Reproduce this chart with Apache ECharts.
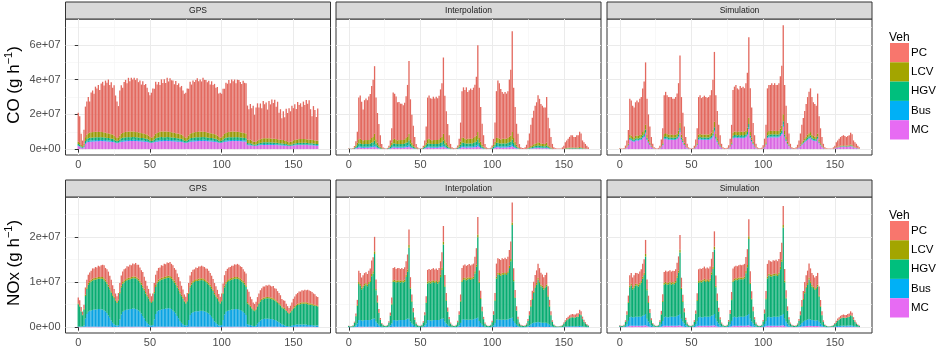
<!DOCTYPE html>
<html>
<head>
<meta charset="utf-8">
<script src="https://cdn.jsdelivr.net/npm/echarts@6/dist/echarts.min.js"></script>
<style>
  html, body { margin: 0; padding: 0; background: #ffffff; }
  #chart { width: 937px; height: 350px; }
</style>
</head>
<body>
<div id="chart"></div>
<script>
// Hourly emissions over one week (hour 0 to 167), stacked by vehicle type.
// Values are in units of 1e6 g/h.
const hours = Array.from({ length: 168 }, (_, h) => h);
const vehicles = ['PC', 'LCV', 'HGV', 'Bus', 'MC'];
const methods = ['GPS', 'Interpolation', 'Simulation'];
const xMajorTicks = [0, 50, 100, 150];
const xMinorTicks = [25, 75, 125];
const coTicks = [0, 2e7, 4e7, 6e7];
const coMinorTicks = [1e7, 3e7, 5e7, 7e7];
const noxTicks = [0, 1e7, 2e7];
const noxMinorTicks = [0.5e7, 1.5e7, 2.5e7];

// ---------- CO, GPS ----------
const gpsCoMC = [
  1.8,1.5,0.8,0.5,1.0,3.0,3.8,4.1,4.2,4.3,4.4,4.4, 4.5,4.5,4.5,4.6,4.6,4.6,4.5,4.5,4.4,4.4,4.3,4.2,
  4.1,3.9,3.6,3.4,3.5,3.9,4.2,4.3,4.4,4.5,4.5,4.6, 4.6,4.6,4.7,4.7,4.6,4.6,4.5,4.5,4.4,4.4,4.3,4.2,
  4.1,3.9,3.7,3.5,3.6,3.9,4.2,4.3,4.4,4.5,4.5,4.5, 4.6,4.6,4.6,4.6,4.6,4.5,4.5,4.4,4.4,4.3,4.3,4.2,
  4.1,3.9,3.6,3.5,3.6,3.9,4.2,4.3,4.4,4.4,4.5,4.5, 4.6,4.6,4.6,4.7,4.7,4.6,4.5,4.5,4.4,4.4,4.3,4.2,
  4.1,3.9,3.7,3.5,3.6,3.9,4.2,4.3,4.4,4.5,4.5,4.6, 4.6,4.6,4.6,4.6,4.6,4.5,4.5,4.4,4.4,4.3,2.3,2.2,
  2.2,2.1,1.9,1.8,1.9,2.0,2.2,2.3,2.3,2.4,2.4,2.4, 2.4,2.4,2.4,2.4,2.4,2.3,2.3,2.3,2.2,2.2,2.1,2.1,
  2.0,1.9,1.8,1.7,1.8,1.9,2.1,2.2,2.2,2.3,2.3,2.3, 2.3,2.3,2.3,2.3,2.3,2.2,2.2,2.2,2.1,2.1,2.0,2.0
];
const gpsCoBus = [
  0.4,0.3,0.2,0.2,0.3,0.5,0.6,0.7,0.7,0.7,0.7,0.7, 0.7,0.7,0.7,0.7,0.7,0.7,0.7,0.7,0.6,0.6,0.6,0.5,
  0.5,0.4,0.3,0.3,0.3,0.4,0.6,0.7,0.7,0.7,0.7,0.7, 0.7,0.7,0.7,0.7,0.7,0.7,0.7,0.7,0.6,0.6,0.6,0.5,
  0.5,0.4,0.3,0.3,0.3,0.4,0.6,0.7,0.7,0.7,0.8,0.7, 0.7,0.7,0.8,0.7,0.7,0.7,0.7,0.7,0.6,0.6,0.6,0.5,
  0.5,0.4,0.3,0.3,0.3,0.4,0.6,0.6,0.7,0.7,0.7,0.7, 0.7,0.7,0.7,0.7,0.7,0.7,0.7,0.6,0.6,0.6,0.6,0.5,
  0.5,0.4,0.3,0.3,0.3,0.4,0.6,0.7,0.7,0.7,0.7,0.7, 0.7,0.7,0.7,0.7,0.7,0.7,0.7,0.7,0.6,0.6,0.4,0.4,
  0.4,0.3,0.2,0.2,0.2,0.3,0.4,0.4,0.5,0.5,0.5,0.5, 0.5,0.5,0.5,0.5,0.5,0.5,0.5,0.4,0.4,0.4,0.4,0.4,
  0.3,0.3,0.2,0.2,0.2,0.2,0.3,0.3,0.4,0.4,0.4,0.4, 0.4,0.4,0.4,0.4,0.4,0.4,0.4,0.4,0.3,0.3,0.3,0.3
];
const gpsCoHGV = [
  0.8,0.7,0.5,0.4,0.8,1.2,1.4,1.5,1.6,1.6,1.6,1.6, 1.6,1.6,1.6,1.6,1.5,1.5,1.5,1.4,1.4,1.4,1.3,1.3,
  1.3,1.2,1.0,0.9,1.0,1.2,1.4,1.5,1.6,1.6,1.6,1.6, 1.6,1.6,1.6,1.6,1.5,1.5,1.5,1.4,1.4,1.4,1.3,1.3,
  1.3,1.2,1.0,0.9,1.0,1.2,1.4,1.5,1.6,1.7,1.7,1.6, 1.6,1.6,1.6,1.6,1.5,1.5,1.5,1.4,1.4,1.4,1.3,1.3,
  1.3,1.2,1.0,0.9,1.0,1.2,1.4,1.5,1.5,1.6,1.6,1.6, 1.6,1.6,1.6,1.6,1.5,1.5,1.5,1.4,1.4,1.4,1.3,1.3,
  1.3,1.2,1.0,0.9,1.0,1.2,1.4,1.5,1.6,1.6,1.6,1.6, 1.6,1.6,1.6,1.6,1.5,1.5,1.5,1.4,1.4,1.4,0.8,0.8,
  0.8,0.7,0.6,0.6,0.6,0.7,0.8,0.9,0.9,1.0,1.0,1.0, 1.0,1.0,1.0,0.9,0.9,0.9,0.9,0.9,0.8,0.8,0.8,0.8,
  0.7,0.7,0.6,0.5,0.6,0.6,0.7,0.8,0.8,0.8,0.9,0.9, 0.9,0.9,0.9,0.9,0.8,0.8,0.8,0.8,0.8,0.7,0.7,0.7
];
const gpsCoLCV = [
  1.2,1.0,0.8,0.6,1.2,2.2,2.6,2.8,3.0,3.1,3.1,3.2, 3.2,3.2,3.1,3.1,3.0,3.0,2.9,2.9,2.8,2.7,2.7,2.6,
  2.5,2.3,2.0,1.8,2.0,2.3,2.6,2.8,3.0,3.1,3.2,3.2, 3.2,3.2,3.1,3.1,3.0,3.0,2.9,2.9,2.8,2.7,2.7,2.6,
  2.5,2.3,2.0,1.8,2.0,2.3,2.6,2.8,3.0,3.1,3.2,3.3, 3.3,3.2,3.2,3.1,3.0,3.0,2.9,2.9,2.8,2.7,2.7,2.6,
  2.5,2.3,2.0,1.8,2.0,2.3,2.6,2.8,2.9,3.0,3.1,3.1, 3.2,3.2,3.1,3.1,3.0,3.0,2.9,2.9,2.8,2.7,2.7,2.6,
  2.5,2.3,2.0,1.8,2.0,2.3,2.6,2.8,3.0,3.1,3.2,3.2, 3.2,3.2,3.1,3.1,3.0,3.0,2.9,2.9,2.8,2.7,2.0,2.0,
  2.0,1.9,1.7,1.6,1.7,1.8,2.0,2.1,2.2,2.3,2.3,2.3, 2.3,2.3,2.3,2.2,2.2,2.2,2.1,2.1,2.0,2.0,1.9,1.9,
  1.8,1.7,1.6,1.5,1.6,1.7,1.9,2.0,2.1,2.1,2.2,2.2, 2.2,2.2,2.2,2.1,2.1,2.1,2.0,2.0,2.0,1.9,1.9,1.8
];
const gpsCoPC = [
  16.8,15.4,6.5,3.2,7.9,17.6,19,21,18,23,24,22, 26,25,27,24,28,29,27,30,29,31,28,30,
  27,29,24,21,18,26,28,26,29,30,28,31, 29,31,30,31,30,31,29,30,28,30,28,29,
  27,25,24,26,28,27,30,28,29,27,30,28, 30,28,31,29,31,30,30,28,30,28,29,27,
  28,26,25,26,28,27,30,28,30,29,30,31, 29,30,29,31,30,30,29,30,28,30,28,29,
  27,28,25,26,25,27,26,29,28,30,28,30, 29,30,28,30,30,29,28,30,29,29,19.6,17.6,
  20.6,18.6,20.6,15.6,19.6,21.6,18.6,20.6,17.6,21.6,19.6,20.6, 16.6,21.6,19.6,22.6,20.6,22.6,18.6,21.6,15.6,17.6,12.6,16.6,
  13.6,18.6,16.6,19.6,17.6,20.6,18.6,20.6,17.6,21.6,19.6,20.6, 18.6,21.6,19.6,22.6,20.6,22.6,17.6,13.6,19.6,17.6,13.6,18.6
];

// ---------- CO, Interpolation ----------
const interpCoMC = [
  0.02,0.02,0.02,0.02,0.1,0.3,0.6,0.9,0.9,0.8,0.7,0.8, 0.8,0.8,0.8,0.9,1.0,1.1,1.4,0.9,0.6,0.4,0.2,0.1,
  0.02,0.02,0.02,0.02,0.1,0.3,0.6,0.9,0.9,0.8,0.8,0.8, 0.8,0.8,0.8,0.9,1.0,1.1,1.4,0.9,0.6,0.4,0.2,0.1,
  0.02,0.02,0.02,0.02,0.1,0.3,0.6,0.9,0.9,0.8,0.8,0.8, 0.8,0.8,0.8,0.9,1.0,1.1,1.4,0.9,0.6,0.4,0.2,0.1,
  0.03,0.02,0.02,0.03,0.1,0.3,0.7,1.0,1.0,0.9,0.8,0.9, 0.9,0.9,0.9,1.0,1.1,1.2,1.6,1.0,0.7,0.4,0.2,0.1,
  0.03,0.02,0.02,0.03,0.1,0.3,0.7,1.0,1.0,0.9,0.8,0.9, 0.9,0.9,0.9,1.0,1.1,1.2,1.6,1.0,0.7,0.4,0.2,0.1,
  0.02,0.015,0.01,0.02,0.05,0.1,0.18,0.28,0.36,0.44,0.5,0.54, 0.62,0.58,0.52,0.5,0.48,0.48,0.6,0.36,0.24,0.14,0.06,0.02,
  0.01,0.01,0.01,0.01,0.01,0.02,0.04,0.08,0.1,0.11,0.13,0.15, 0.15,0.13,0.13,0.15,0.15,0.19,0.17,0.1,0.08,0.06,0.04,0.02
];
const interpCoBus = [
  0.02,0.02,0.02,0.02,0.1,0.3,0.5,0.7,0.7,0.6,0.6,0.6, 0.6,0.6,0.6,0.7,0.8,0.9,1.1,0.7,0.5,0.3,0.2,0.1,
  0.02,0.02,0.02,0.02,0.1,0.3,0.5,0.7,0.7,0.6,0.6,0.6, 0.6,0.6,0.6,0.7,0.8,0.9,1.1,0.7,0.5,0.3,0.2,0.1,
  0.02,0.02,0.02,0.02,0.1,0.3,0.5,0.7,0.7,0.6,0.6,0.6, 0.6,0.6,0.6,0.7,0.8,0.9,1.1,0.7,0.5,0.3,0.2,0.1,
  0.02,0.02,0.02,0.02,0.1,0.3,0.6,0.8,0.8,0.7,0.7,0.7, 0.7,0.7,0.7,0.8,0.9,1.0,1.3,0.8,0.5,0.3,0.2,0.1,
  0.02,0.02,0.02,0.02,0.1,0.3,0.6,0.8,0.8,0.7,0.7,0.7, 0.7,0.7,0.7,0.8,0.9,1.0,1.3,0.8,0.5,0.3,0.2,0.1,
  0.015,0.01,0.01,0.015,0.04,0.07,0.13,0.21,0.27,0.33,0.37,0.41, 0.47,0.43,0.39,0.37,0.36,0.36,0.45,0.27,0.18,0.11,0.05,0.015,
  0.01,0.01,0.005,0.005,0.01,0.015,0.03,0.06,0.07,0.09,0.1,0.11, 0.11,0.1,0.1,0.11,0.11,0.14,0.13,0.07,0.06,0.04,0.03,0.015
];
const interpCoHGV = [
  0.1,0.1,0.1,0.1,0.4,0.8,1.2,1.6,1.7,1.6,1.5,1.5, 1.5,1.5,1.5,1.6,1.8,1.9,2.4,1.6,1.1,0.7,0.4,0.2,
  0.1,0.1,0.1,0.1,0.4,0.8,1.2,1.6,1.7,1.6,1.5,1.5, 1.5,1.5,1.5,1.6,1.8,1.9,2.4,1.6,1.1,0.7,0.4,0.2,
  0.1,0.1,0.1,0.1,0.4,0.8,1.2,1.6,1.7,1.6,1.5,1.5, 1.5,1.5,1.5,1.6,1.8,1.9,2.4,1.6,1.1,0.7,0.4,0.2,
  0.1,0.1,0.1,0.1,0.4,0.9,1.3,1.8,1.9,1.8,1.7,1.7, 1.7,1.7,1.7,1.8,2.0,2.1,2.7,1.8,1.2,0.8,0.4,0.2,
  0.1,0.1,0.1,0.1,0.4,0.9,1.3,1.8,1.9,1.8,1.7,1.7, 1.7,1.7,1.7,1.8,2.0,2.1,2.7,1.8,1.2,0.8,0.4,0.2,
  0.035,0.025,0.017,0.035,0.08,0.17,0.31,0.49,0.63,0.77,0.87,0.95, 1.1,1.0,0.91,0.87,0.84,0.84,1.05,0.63,0.42,0.25,0.11,0.035,
  0.015,0.013,0.01,0.01,0.013,0.034,0.07,0.13,0.17,0.2,0.24,0.27, 0.27,0.24,0.24,0.27,0.27,0.34,0.3,0.17,0.13,0.1,0.07,0.034
];
const interpCoLCV = [
  0.05,0.05,0.05,0.05,0.3,0.8,1.5,2.5,2.6,2.3,2.1,2.3, 2.3,2.3,2.4,2.5,2.8,3.1,3.9,2.5,1.6,1.0,0.5,0.2,
  0.05,0.05,0.05,0.05,0.3,0.8,1.5,2.5,2.6,2.3,2.1,2.3, 2.3,2.3,2.4,2.5,2.8,3.1,3.9,2.5,1.6,1.0,0.5,0.2,
  0.05,0.05,0.05,0.05,0.3,0.8,1.5,2.5,2.6,2.3,2.1,2.3, 2.3,2.3,2.4,2.5,2.8,3.1,3.9,2.5,1.6,1.0,0.5,0.2,
  0.05,0.05,0.05,0.05,0.3,0.9,1.7,2.8,2.9,2.6,2.4,2.6, 2.6,2.6,2.7,2.8,3.1,3.4,4.3,2.8,1.8,1.1,0.6,0.2,
  0.05,0.05,0.05,0.05,0.3,0.9,1.7,2.8,2.9,2.6,2.4,2.6, 2.6,2.6,2.7,2.8,3.1,3.4,4.3,2.8,1.8,1.1,0.6,0.2,
  0.05,0.04,0.026,0.05,0.13,0.26,0.48,0.77,0.99,1.2,1.36,1.5, 1.72,1.58,1.43,1.36,1.32,1.32,1.65,0.99,0.66,0.4,0.18,0.05,
  0.026,0.02,0.016,0.016,0.02,0.053,0.1,0.21,0.26,0.32,0.37,0.42, 0.42,0.37,0.37,0.42,0.42,0.53,0.47,0.26,0.21,0.16,0.1,0.053
];
const interpCoPC = [
  0.3,0.2,0.1,0.4,0.9,2.3,6.2,24,25,22,18,23, 24,23,25,26,30,33,39,24,17,12,6.7,2.4,
  0.8,0.3,0.2,0.5,1.1,2.8,8.2,27,26,25,22,22, 21,21,20,21,24,30,42,23,16,11,5.7,2.4,
  0.8,0.3,0.2,0.5,1.1,2.8,9.2,24,25,24,24,25, 24,25,24,25,28,31,44,25,18,12,6.7,2.4,
  0.8,0.4,0.3,0.6,1.2,3.6,11,27,29,28,30,27, 28,29,28,29,30,34,50,29,20,12,6.6,2.3,
  0.8,0.4,0.3,0.6,1.2,3.5,11,27,33,32,29,27, 26,27,26,27,33,38,58,29,20,12,7.5,2.3,
  0.88,0.61,0.44,0.88,2.2,4.4,7.9,12.3,15.8,19.3,21.9,23.6, 27.1,25.4,22.8,21.9,21,21,26.3,15.8,10.5,6.1,2.6,0.88,
  0.44,0.35,0.26,0.26,0.35,0.88,1.76,3.5,4.4,5.3,6.2,7.0, 7.0,6.2,6.2,7.0,7.0,8.8,7.9,4.4,3.5,2.6,1.76,0.88
];

// ---------- CO, Simulation ----------
const simCoMC = [
  0.09,0.05,0.05,0.11,0.36,0.9,2.0,5.2,5.0,4.5,4.3,4.9, 5.0,4.9,5.2,5.4,6.3,7.0,9.0,5.2,3.6,2.3,1.3,0.54,
  0.18,0.09,0.07,0.13,0.36,1.0,2.2,5.6,5.9,5.6,5.4,5.4, 5.4,5.2,5.2,5.4,5.8,6.8,9.7,5.4,3.8,2.3,1.3,0.54,
  0.18,0.09,0.07,0.13,0.36,1.0,2.2,5.4,5.6,5.4,5.4,5.4, 5.4,5.4,5.4,5.6,6.1,7.2,10.1,5.6,4.0,2.5,1.4,0.54,
  0.18,0.11,0.09,0.14,0.4,1.1,2.5,6.1,6.5,6.5,6.3,6.5, 6.3,6.5,6.3,6.5,6.8,7.9,11.6,6.3,4.3,2.7,1.4,0.54,
  0.18,0.11,0.09,0.14,0.4,1.1,2.5,6.3,6.7,6.7,6.8,6.7, 6.8,6.7,6.7,6.8,7.6,8.6,12.9,6.7,4.5,2.7,1.6,0.54,
  0.18,0.13,0.09,0.18,0.45,0.9,1.6,2.5,3.2,4.0,4.7,5.4, 5.9,6.3,5.4,4.9,4.7,4.5,5.8,3.4,2.2,1.3,0.54,0.18,
  0.09,0.07,0.05,0.05,0.07,0.18,0.36,0.72,0.9,1.08,1.26,1.35, 1.44,1.35,1.26,1.35,1.44,1.71,1.53,0.9,0.72,0.54,0.36,0.18
];
const simCoBus = [
  0.01,0.01,0.01,0.01,0.03,0.08,0.17,0.44,0.42,0.38,0.36,0.4, 0.42,0.4,0.44,0.45,0.52,0.58,0.75,0.44,0.3,0.2,0.1,0.05,
  0.02,0.01,0.01,0.01,0.03,0.08,0.18,0.47,0.5,0.47,0.45,0.45, 0.45,0.44,0.44,0.45,0.48,0.57,0.81,0.45,0.32,0.2,0.1,0.05,
  0.02,0.01,0.01,0.01,0.03,0.08,0.18,0.45,0.47,0.45,0.45,0.45, 0.45,0.45,0.45,0.47,0.51,0.6,0.84,0.47,0.33,0.21,0.12,0.05,
  0.02,0.01,0.01,0.01,0.03,0.09,0.21,0.51,0.54,0.54,0.53,0.54, 0.53,0.54,0.53,0.54,0.57,0.66,0.97,0.53,0.36,0.23,0.12,0.05,
  0.02,0.01,0.01,0.01,0.03,0.09,0.21,0.53,0.56,0.56,0.57,0.56, 0.57,0.56,0.56,0.57,0.63,0.72,1.07,0.56,0.38,0.23,0.14,0.05,
  0.02,0.01,0.01,0.02,0.04,0.08,0.14,0.21,0.27,0.33,0.39,0.45, 0.5,0.53,0.45,0.41,0.39,0.38,0.48,0.29,0.18,0.11,0.05,0.02,
  0.01,0.01,0.01,0.01,0.01,0.02,0.03,0.06,0.08,0.09,0.1,0.11, 0.12,0.11,0.1,0.11,0.12,0.14,0.13,0.08,0.06,0.05,0.03,0.02
];
const simCoHGV = [
  0.02,0.01,0.01,0.02,0.06,0.15,0.33,0.87,0.84,0.75,0.72,0.81, 0.84,0.81,0.87,0.9,1.05,1.17,1.5,0.87,0.6,0.39,0.21,0.09,
  0.03,0.02,0.01,0.02,0.06,0.17,0.36,0.93,1.0,0.93,0.9,0.9, 0.9,0.87,0.87,0.9,0.96,1.14,1.62,0.9,0.63,0.39,0.21,0.09,
  0.03,0.02,0.01,0.02,0.06,0.17,0.36,0.9,0.93,0.9,0.9,0.9, 0.9,0.9,0.9,0.93,1.02,1.2,1.68,0.93,0.66,0.42,0.24,0.09,
  0.03,0.02,0.02,0.02,0.07,0.18,0.42,1.02,1.08,1.08,1.05,1.08, 1.05,1.08,1.05,1.08,1.14,1.32,1.94,1.05,0.72,0.45,0.24,0.09,
  0.03,0.02,0.02,0.02,0.07,0.18,0.42,1.05,1.11,1.11,1.14,1.11, 1.14,1.11,1.11,1.14,1.26,1.44,2.15,1.11,0.75,0.45,0.27,0.09,
  0.03,0.02,0.02,0.03,0.08,0.15,0.27,0.42,0.54,0.66,0.78,0.9, 0.99,1.05,0.9,0.81,0.78,0.75,0.96,0.57,0.36,0.21,0.09,0.03,
  0.02,0.01,0.01,0.01,0.01,0.03,0.06,0.12,0.15,0.18,0.21,0.23, 0.24,0.23,0.21,0.23,0.24,0.29,0.26,0.15,0.12,0.09,0.06,0.03
];
const simCoLCV = [
  0.03,0.02,0.02,0.03,0.11,0.28,0.6,1.6,1.54,1.38,1.32,1.49, 1.54,1.49,1.6,1.65,1.93,2.15,2.75,1.6,1.1,0.72,0.39,0.17,
  0.06,0.03,0.02,0.04,0.11,0.3,0.66,1.7,1.8,1.7,1.65,1.65, 1.65,1.6,1.6,1.65,1.76,2.1,3.0,1.65,1.15,0.72,0.39,0.17,
  0.06,0.03,0.02,0.04,0.11,0.3,0.66,1.65,1.7,1.65,1.65,1.65, 1.65,1.65,1.65,1.7,1.87,2.2,3.1,1.7,1.2,0.77,0.44,0.17,
  0.06,0.03,0.03,0.04,0.12,0.33,0.77,1.87,1.98,1.98,1.93,1.98, 1.93,1.98,1.93,1.98,2.09,2.42,3.55,1.93,1.32,0.83,0.44,0.17,
  0.06,0.03,0.03,0.04,0.12,0.33,0.77,1.93,2.04,2.04,2.09,2.04, 2.09,2.04,2.04,2.09,2.31,2.64,3.93,2.04,1.38,0.83,0.5,0.17,
  0.06,0.04,0.03,0.06,0.14,0.28,0.5,0.77,0.99,1.21,1.43,1.65, 1.82,1.93,1.65,1.49,1.43,1.38,1.76,1.05,0.66,0.39,0.17,0.06,
  0.03,0.02,0.02,0.02,0.02,0.06,0.11,0.22,0.28,0.33,0.39,0.41, 0.44,0.41,0.39,0.41,0.44,0.52,0.47,0.28,0.22,0.17,0.11,0.06
];
const simCoPC = [
  0.36,0.22,0.22,0.43,1.44,3.6,7.9,20.9,20.2,18,17.3,19.4, 20.2,19.4,20.9,21.6,25.2,28.1,36,20.9,14.4,9.4,5,2.2,
  0.72,0.36,0.29,0.5,1.44,4.0,8.6,22.3,23.8,22.3,21.6,21.6, 21.6,20.9,20.9,21.6,23,27.4,38.9,21.6,15.1,9.4,5,2.2,
  0.72,0.36,0.29,0.5,1.44,4.0,8.6,21.6,22.3,21.0,21.6,22.4, 21.6,21.2,21.6,22.3,24.5,28.8,40.3,22.3,15.8,10.1,5.8,2.2,
  0.72,0.43,0.36,0.58,1.58,4.3,10.1,24.5,25.9,26.8,25.2,24.3, 26.5,25.2,26.2,25.0,27.4,31.7,46.4,25.2,17.3,10.8,5.8,2.2,
  0.72,0.43,0.36,0.58,1.58,4.3,10.1,25.2,26.6,26.6,27.4,26.6, 27.4,26.6,26.6,27.4,30.2,34.6,51.4,26.6,18,10.8,6.5,2.2,
  0.72,0.5,0.36,0.72,1.8,3.6,6.5,10.1,13,15.8,18.7,21.6, 23.8,25.2,21.6,19.4,18.7,18,23,13.7,8.6,5,2.2,0.72,
  0.36,0.29,0.22,0.22,0.29,0.72,1.44,2.9,3.6,4.3,5,5.4, 5.8,5.4,5,5.4,5.8,6.8,6.1,3.6,2.9,2.2,1.44,0.72
];

// ---------- NOx, GPS ----------
const gpsNoxMC = [
  0.05,0.05,0.04,0.04,0.05,0.08,0.1,0.1,0.1,0.1,0.1,0.1, 0.1,0.1,0.1,0.1,0.1,0.1,0.1,0.1,0.1,0.08,0.07,0.06,
  0.05,0.05,0.04,0.04,0.05,0.08,0.1,0.1,0.1,0.1,0.1,0.1, 0.1,0.1,0.1,0.1,0.1,0.1,0.1,0.1,0.1,0.08,0.07,0.06,
  0.05,0.05,0.04,0.04,0.05,0.08,0.1,0.1,0.1,0.1,0.1,0.1, 0.1,0.1,0.1,0.1,0.1,0.1,0.1,0.1,0.1,0.08,0.07,0.06,
  0.05,0.05,0.04,0.04,0.05,0.08,0.1,0.1,0.1,0.1,0.1,0.1, 0.1,0.1,0.1,0.1,0.1,0.1,0.1,0.1,0.1,0.08,0.07,0.06,
  0.05,0.05,0.04,0.04,0.05,0.08,0.1,0.1,0.1,0.1,0.1,0.1, 0.1,0.1,0.1,0.1,0.1,0.1,0.1,0.1,0.1,0.08,0.05,0.05,
  0.05,0.05,0.04,0.04,0.04,0.05,0.06,0.07,0.08,0.08,0.08,0.08, 0.08,0.08,0.08,0.08,0.08,0.08,0.07,0.07,0.06,0.06,0.05,0.05,
  0.05,0.05,0.04,0.04,0.04,0.05,0.06,0.07,0.08,0.08,0.08,0.08, 0.08,0.08,0.08,0.08,0.08,0.08,0.07,0.07,0.06,0.06,0.05,0.05
];
const gpsNoxBus = [
  0.1,0.1,0.1,0.1,0.3,1.8,2.8,3.3,3.5,3.6,3.7,3.8, 3.8,3.8,3.9,3.9,3.8,3.8,3.6,3.4,3.0,2.5,2.0,1.4,
  0.9,0.6,0.4,0.3,0.4,1.6,2.7,3.3,3.5,3.7,3.8,3.8, 3.9,3.9,4.0,4.0,3.9,3.8,3.6,3.3,2.9,2.4,1.9,1.3,
  0.9,0.6,0.4,0.3,0.4,1.6,2.8,3.4,3.6,3.7,3.8,3.9, 3.9,4.0,4.0,4.1,4.0,3.9,3.6,3.3,2.9,2.4,1.9,1.3,
  0.9,0.6,0.4,0.3,0.4,1.5,2.6,3.0,3.2,3.3,3.4,3.4, 3.4,3.5,3.5,3.5,3.4,3.3,3.1,2.9,2.6,2.2,1.8,1.2,
  0.9,0.6,0.4,0.3,0.4,1.5,2.7,3.3,3.5,3.6,3.7,3.8, 3.8,3.9,3.9,3.9,3.8,3.7,3.5,3.3,3.0,2.6,0.6,0.5,
  0.4,0.3,0.2,0.2,0.3,0.7,1.1,1.4,1.6,1.7,1.8,1.8, 1.8,1.8,1.7,1.7,1.6,1.5,1.4,1.2,1.0,0.8,0.6,0.5,
  0.3,0.2,0.2,0.1,0.2,0.3,0.4,0.4,0.5,0.5,0.5,0.5, 0.5,0.5,0.5,0.5,0.4,0.4,0.4,0.4,0.3,0.3,0.3,0.3
];
const gpsNoxHGV = [
  4.9,4.4,3.3,2.5,3.5,5.0,5.6,6.0,6.2,6.4,6.5,6.6, 6.6,6.7,6.7,6.7,6.8,6.8,6.7,6.6,6.5,6.4,6.3,6.2,
  6.0,5.8,5.4,5.0,5.4,5.8,6.0,6.2,6.3,6.4,6.5,6.6, 6.6,6.7,6.7,6.7,6.8,6.7,6.6,6.5,6.4,6.3,6.2,6.1,
  5.9,5.7,5.3,5.0,5.3,5.8,6.0,6.2,6.4,6.5,6.6,6.6, 6.7,6.7,6.8,6.8,6.8,6.7,6.6,6.5,6.4,6.3,6.2,6.1,
  5.9,5.7,5.2,4.9,5.3,5.8,6.1,6.3,6.5,6.6,6.7,6.7, 6.8,6.8,6.8,6.8,6.7,6.6,6.5,6.4,6.3,6.2,6.1,6.0,
  5.8,5.6,5.3,4.9,5.3,5.8,6.0,6.2,6.4,6.5,6.6,6.6, 6.7,6.7,6.7,6.7,6.7,6.6,6.5,6.4,6.3,6.2,4.6,4.4,
  4.0,3.8,3.5,3.3,3.5,3.8,4.0,4.2,4.3,4.4,4.4,4.5, 4.5,4.5,4.5,4.4,4.4,4.3,4.2,4.1,4.0,3.9,3.7,3.6,
  3.6,3.3,3.0,2.8,3.0,3.3,3.6,3.9,4.1,4.3,4.4,4.5, 4.6,4.6,4.6,4.6,4.6,4.5,4.5,4.4,4.4,4.3,4.3,4.2
];
const gpsNoxLCV = [
  0.2,0.2,0.1,0.1,0.2,0.3,0.3,0.4,0.4,0.4,0.4,0.4, 0.4,0.4,0.4,0.4,0.4,0.4,0.4,0.4,0.4,0.4,0.3,0.3,
  0.3,0.3,0.2,0.2,0.2,0.3,0.4,0.4,0.4,0.4,0.4,0.4, 0.4,0.4,0.4,0.4,0.4,0.4,0.4,0.4,0.4,0.4,0.3,0.3,
  0.3,0.3,0.2,0.2,0.2,0.3,0.4,0.4,0.4,0.4,0.4,0.4, 0.4,0.4,0.4,0.4,0.4,0.4,0.4,0.4,0.4,0.4,0.3,0.3,
  0.3,0.3,0.2,0.2,0.2,0.3,0.4,0.4,0.4,0.4,0.4,0.4, 0.4,0.4,0.4,0.4,0.4,0.4,0.4,0.4,0.4,0.4,0.3,0.3,
  0.3,0.3,0.2,0.2,0.2,0.3,0.4,0.4,0.4,0.4,0.4,0.4, 0.4,0.4,0.4,0.4,0.4,0.4,0.4,0.4,0.4,0.4,0.3,0.3,
  0.3,0.2,0.2,0.2,0.2,0.2,0.3,0.3,0.3,0.3,0.3,0.3, 0.3,0.3,0.3,0.3,0.3,0.3,0.3,0.3,0.3,0.3,0.2,0.2,
  0.3,0.2,0.2,0.2,0.2,0.2,0.3,0.3,0.3,0.3,0.3,0.3, 0.3,0.3,0.3,0.3,0.3,0.3,0.3,0.3,0.3,0.3,0.2,0.2
];
const gpsNoxPC = [
  1.3,1.2,0.9,0.7,0.9,1.6,1.7,1.8,1.9,2.0,2.3,2.1, 2.4,2.2,2.5,2.3,2.6,2.7,2.9,2.6,2.8,2.9,2.7,2.5,
  2.0,1.7,1.4,1.3,1.5,2.0,2.2,2.3,2.5,2.4,2.7,2.5, 2.8,2.6,2.9,2.7,3.0,2.8,3.1,2.9,2.8,3.0,2.7,2.5,
  2.0,1.8,1.5,1.3,1.5,2.0,2.3,2.4,2.6,2.5,2.8,2.6, 2.9,2.7,3.0,2.8,3.1,2.9,3.0,2.8,2.9,2.7,2.6,2.4,
  2.0,1.7,1.4,1.3,1.6,2.1,2.2,2.4,2.5,2.4,2.6,2.5, 2.7,2.6,2.8,2.6,2.7,2.6,2.8,2.7,2.6,2.5,2.4,2.2,
  2.0,1.7,1.4,1.3,1.5,2.0,2.3,2.4,2.5,2.6,2.5,2.7, 2.6,2.8,2.7,2.9,2.8,2.7,2.8,2.6,2.5,2.6,2.8,2.6,
  2.0,1.8,1.5,1.4,1.6,1.9,2.0,2.2,2.3,2.5,2.4,2.6, 2.5,2.7,2.6,2.5,2.7,2.4,2.5,2.3,2.2,2.0,1.7,1.6,
  1.6,1.4,1.2,1.1,1.3,1.6,1.9,2.1,2.3,2.4,2.6,2.5, 2.7,2.6,2.8,2.7,2.9,2.8,2.7,2.6,2.4,2.3,2.0,1.9
];

// ---------- NOx, Interpolation ----------
const interpNoxMC = [
  0,0,0,0,0.01,0.02,0.03,0.06,0.06,0.06,0.06,0.06, 0.06,0.06,0.06,0.06,0.07,0.07,0.08,0.05,0.03,0.02,0.01,0,
  0,0,0,0,0.01,0.02,0.03,0.06,0.06,0.06,0.06,0.06, 0.06,0.06,0.06,0.06,0.07,0.07,0.08,0.05,0.03,0.02,0.01,0,
  0,0,0,0,0.01,0.02,0.03,0.06,0.06,0.06,0.06,0.06, 0.06,0.06,0.06,0.06,0.07,0.07,0.08,0.05,0.03,0.02,0.01,0,
  0,0,0,0,0.01,0.02,0.03,0.06,0.06,0.06,0.06,0.06, 0.06,0.06,0.06,0.06,0.07,0.07,0.08,0.05,0.03,0.02,0.01,0,
  0,0,0,0,0.01,0.02,0.03,0.06,0.06,0.06,0.06,0.06, 0.06,0.06,0.06,0.06,0.07,0.07,0.08,0.05,0.03,0.02,0.01,0,
  0,0,0,0,0,0.01,0.02,0.03,0.04,0.05,0.05,0.06, 0.06,0.06,0.05,0.05,0.05,0.05,0.05,0.04,0.03,0.02,0.01,0,
  0,0,0,0,0,0,0,0.01,0.01,0.01,0.01,0.01, 0.01,0.01,0.01,0.01,0.01,0.02,0.01,0.01,0.01,0,0,0
];
const interpNoxBus = [
  0.03,0.02,0.02,0.05,0.15,0.4,0.8,1.5,1.5,1.4,1.4,1.5, 1.5,1.5,1.5,1.5,1.7,1.8,1.8,1.2,0.8,0.5,0.25,0.1,
  0.03,0.02,0.02,0.05,0.15,0.4,0.8,1.5,1.5,1.4,1.4,1.5, 1.5,1.5,1.5,1.5,1.7,1.8,1.8,1.2,0.8,0.5,0.25,0.1,
  0.03,0.02,0.02,0.05,0.15,0.4,0.8,1.5,1.5,1.4,1.4,1.5, 1.5,1.5,1.5,1.5,1.7,1.8,1.8,1.2,0.8,0.5,0.25,0.1,
  0.03,0.02,0.02,0.05,0.15,0.4,0.9,1.6,1.7,1.6,1.6,1.6, 1.6,1.6,1.6,1.7,1.8,1.9,2.0,1.3,0.9,0.5,0.25,0.1,
  0.03,0.02,0.02,0.05,0.15,0.4,0.9,1.6,1.7,1.6,1.6,1.6, 1.6,1.6,1.6,1.7,1.8,1.9,2.0,1.3,0.9,0.5,0.25,0.1,
  0.03,0.02,0.02,0.03,0.08,0.2,0.35,0.6,0.8,0.9,1.0,1.0, 1.1,1.0,1.0,0.9,0.9,0.9,0.9,0.7,0.5,0.3,0.15,0.05,
  0.02,0.02,0.01,0.01,0.02,0.04,0.08,0.12,0.15,0.18,0.2,0.2, 0.2,0.2,0.2,0.2,0.2,0.25,0.22,0.15,0.1,0.07,0.05,0.03
];
const interpNoxHGV = [
  0.2,0.13,0.13,0.26,0.8,2.0,3.9,8.0,7.6,6.9,7.3,7.6, 7.8,7.5,8.0,8.4,9.5,10.0,14.3,6.9,4.6,2.6,1.3,0.6,
  0.36,0.21,0.21,0.34,0.85,2.1,4.2,8.4,8.5,8.4,8.5,8.4, 8.3,8.4,8.3,8.5,9.3,10.4,15.7,7.3,4.8,2.8,1.4,0.67,
  0.36,0.21,0.21,0.34,0.85,2.2,4.5,8.1,8.3,8.2,8.4,8.4, 8.2,8.4,8.1,8.4,9.3,10.8,16.4,7.7,5.0,2.9,1.5,0.67,
  0.36,0.21,0.21,0.34,0.93,2.3,4.7,8.3,8.7,8.9,8.7,8.9, 9.0,8.8,9.0,9.0,10.0,11.4,17.8,8.4,5.3,3.0,1.5,0.67,
  0.36,0.21,0.21,0.34,0.93,2.3,4.9,9.1,9.9,9.9,9.7,10.0, 9.9,10.1,9.9,10.2,11.2,12.6,20.5,8.8,5.5,3.1,1.5,0.67,
  0.36,0.29,0.21,0.28,0.51,1.14,2.25,3.9,5.15,6.6,7.65,8.3, 9.3,8.7,8.0,7.85,7.35,7.75,8.1,6.0,4.0,2.3,0.97,0.4,
  0.2,0.13,0.14,0.14,0.2,0.33,0.67,1.0,1.35,1.55,1.75,1.9, 1.97,1.9,1.9,2.05,2.1,2.6,2.4,1.6,1.1,0.76,0.48,0.27
];
const interpNoxLCV = [
  0.01,0.01,0.01,0.01,0.04,0.1,0.2,0.4,0.4,0.4,0.4,0.4, 0.4,0.4,0.4,0.4,0.5,0.5,0.6,0.3,0.2,0.1,0.06,0.03,
  0.01,0.01,0.01,0.01,0.04,0.1,0.2,0.4,0.4,0.4,0.4,0.4, 0.4,0.4,0.4,0.4,0.5,0.5,0.6,0.3,0.2,0.1,0.06,0.03,
  0.01,0.01,0.01,0.01,0.04,0.1,0.2,0.4,0.4,0.4,0.4,0.4, 0.4,0.4,0.4,0.4,0.5,0.5,0.6,0.3,0.2,0.1,0.06,0.03,
  0.01,0.01,0.01,0.01,0.04,0.1,0.2,0.4,0.4,0.4,0.4,0.4, 0.4,0.4,0.4,0.4,0.5,0.5,0.6,0.3,0.2,0.1,0.06,0.03,
  0.01,0.01,0.01,0.01,0.04,0.1,0.2,0.4,0.4,0.4,0.4,0.4, 0.4,0.4,0.4,0.4,0.5,0.5,0.6,0.3,0.2,0.1,0.06,0.03,
  0.01,0.01,0.01,0.01,0.03,0.06,0.1,0.18,0.25,0.3,0.35,0.4, 0.45,0.4,0.4,0.35,0.35,0.35,0.4,0.3,0.2,0.1,0.05,0.02,
  0.01,0.01,0.01,0.01,0.01,0.02,0.03,0.05,0.06,0.07,0.08,0.09, 0.09,0.09,0.09,0.09,0.1,0.12,0.11,0.07,0.05,0.03,0.02,0.01
];
const interpNoxPC = [
  0.06,0.04,0.04,0.08,0.2,0.5,1.1,2.5,2.4,2.2,2.3,2.4, 2.4,2.3,2.5,2.6,3.0,3.1,3.2,2.1,1.4,0.8,0.4,0.18,
  0.1,0.06,0.06,0.1,0.26,0.6,1.3,2.7,2.8,2.6,2.7,2.7, 2.6,2.7,2.6,2.8,3.0,3.3,3.4,2.2,1.4,0.8,0.4,0.2,
  0.1,0.06,0.06,0.1,0.26,0.6,1.3,2.6,2.6,2.6,2.6,2.7, 2.6,2.6,2.6,2.7,3.0,3.4,3.5,2.3,1.5,0.8,0.4,0.2,
  0.1,0.06,0.06,0.1,0.28,0.7,1.4,2.7,2.8,2.9,2.8,2.8, 2.9,2.8,2.8,2.9,3.2,3.6,3.9,2.5,1.6,0.9,0.45,0.2,
  0.1,0.06,0.06,0.1,0.28,0.7,1.5,2.9,3.2,3.1,3.1,3.2, 3.1,3.2,3.1,3.2,3.5,3.9,4.4,2.6,1.6,0.9,0.45,0.2,
  0.1,0.08,0.06,0.08,0.18,0.4,0.8,1.3,1.8,2.2,2.5,2.8, 3.1,2.9,2.6,2.5,2.4,2.5,2.6,2.0,1.3,0.8,0.33,0.13,
  0.07,0.04,0.04,0.04,0.07,0.11,0.22,0.33,0.44,0.5,0.57,0.62, 0.64,0.62,0.62,0.66,0.68,0.84,0.77,0.5,0.35,0.24,0.15,0.09
];

// ---------- NOx, Simulation ----------
const simNoxMC = [
  0.01,0.01,0.01,0.01,0.04,0.1,0.18,0.3,0.3,0.28,0.28,0.3, 0.3,0.3,0.3,0.3,0.33,0.35,0.4,0.24,0.16,0.1,0.05,0.02,
  0.01,0.01,0.01,0.01,0.04,0.1,0.18,0.3,0.3,0.28,0.28,0.3, 0.3,0.3,0.3,0.3,0.33,0.35,0.4,0.24,0.16,0.1,0.05,0.02,
  0.01,0.01,0.01,0.01,0.04,0.1,0.18,0.3,0.3,0.28,0.28,0.3, 0.3,0.3,0.3,0.3,0.33,0.35,0.4,0.24,0.16,0.1,0.05,0.02,
  0.01,0.01,0.01,0.01,0.04,0.1,0.18,0.3,0.3,0.28,0.28,0.3, 0.3,0.3,0.3,0.3,0.33,0.35,0.4,0.24,0.16,0.1,0.05,0.02,
  0.01,0.01,0.01,0.01,0.04,0.1,0.18,0.3,0.3,0.28,0.28,0.3, 0.3,0.3,0.3,0.3,0.33,0.35,0.4,0.24,0.16,0.1,0.05,0.02,
  0.01,0.01,0.01,0.01,0.02,0.05,0.08,0.14,0.18,0.22,0.25,0.27, 0.3,0.28,0.26,0.25,0.24,0.25,0.26,0.2,0.13,0.08,0.04,0.01,
  0,0,0,0,0.01,0.01,0.02,0.03,0.04,0.05,0.05,0.06, 0.06,0.06,0.06,0.06,0.06,0.07,0.07,0.05,0.03,0.02,0.01,0.01
];
const simNoxBus = [
  0.05,0.03,0.03,0.06,0.25,0.6,1.2,1.9,2.0,1.9,1.9,2.0, 2.0,2.0,2.0,2.0,2.2,2.3,2.5,1.6,1.1,0.7,0.35,0.15,
  0.05,0.03,0.03,0.06,0.25,0.6,1.2,1.9,2.0,1.9,1.9,2.0, 2.0,2.0,2.0,2.0,2.2,2.3,2.5,1.6,1.1,0.7,0.35,0.15,
  0.05,0.03,0.03,0.06,0.25,0.6,1.2,1.9,2.0,1.9,1.9,2.0, 2.0,2.0,2.0,2.0,2.2,2.3,2.5,1.6,1.1,0.7,0.35,0.15,
  0.05,0.03,0.03,0.06,0.25,0.6,1.2,1.9,2.0,1.9,1.9,2.0, 2.0,2.0,2.0,2.0,2.2,2.3,2.5,1.6,1.1,0.7,0.35,0.15,
  0.05,0.03,0.03,0.06,0.25,0.6,1.2,1.9,2.0,1.9,1.9,2.0, 2.0,2.0,2.0,2.0,2.2,2.3,2.5,1.6,1.1,0.7,0.35,0.15,
  0.05,0.04,0.03,0.04,0.1,0.25,0.45,0.8,1.0,1.2,1.3,1.4, 1.5,1.4,1.3,1.3,1.2,1.2,1.3,1.0,0.7,0.4,0.2,0.07,
  0.03,0.02,0.02,0.02,0.03,0.06,0.1,0.15,0.2,0.22,0.25,0.27, 0.28,0.27,0.27,0.28,0.3,0.34,0.3,0.22,0.15,0.1,0.06,0.04
];
const simNoxHGV = [
  0.25,0.19,0.19,0.32,0.87,2.0,4.0,6.6,6.9,6.2,6.6,6.9, 6.9,6.7,7.1,7.5,8.2,8.9,12.7,6.3,4.1,2.3,1.1,0.52,
  0.33,0.19,0.19,0.32,0.87,2.1,4.2,7.2,7.3,7.2,7.3,7.4, 7.1,7.3,7.2,7.5,8.4,9.4,13.6,6.6,4.3,2.5,1.2,0.6,
  0.33,0.19,0.19,0.32,0.87,2.2,4.4,7.6,7.7,7.7,7.9,8.0, 7.7,7.9,7.7,8.0,9.1,10.2,14.3,7.0,4.5,2.6,1.3,0.6,
  0.33,0.19,0.19,0.32,0.97,2.2,4.6,7.8,8.0,8.3,8.2,8.3, 8.3,8.3,8.3,8.5,9.4,10.6,16.6,7.7,4.9,2.7,1.3,0.6,
  0.33,0.19,0.19,0.32,0.97,2.3,4.8,8.6,9.1,9.1,9.0,9.1, 9.1,9.2,9.0,9.4,10.3,11.8,19.1,8.1,5.1,2.8,1.3,0.6,
  0.33,0.26,0.19,0.26,0.48,1.04,2.1,3.58,4.82,6.08,7.1,7.68, 8.75,8.07,7.44,7.1,6.81,7.0,7.44,5.5,3.67,2.15,0.88,0.37,
  0.2,0.13,0.13,0.13,0.19,0.31,0.55,0.87,1.18,1.38,1.57,1.68, 1.75,1.68,1.68,1.83,1.88,2.2,2.02,1.38,0.94,0.63,0.38,0.21
];
const simNoxLCV = [
  0.01,0.01,0.01,0.01,0.04,0.1,0.2,0.4,0.4,0.4,0.4,0.4, 0.4,0.4,0.4,0.4,0.5,0.5,0.6,0.3,0.2,0.1,0.06,0.03,
  0.01,0.01,0.01,0.01,0.04,0.1,0.2,0.4,0.4,0.4,0.4,0.4, 0.4,0.4,0.4,0.4,0.5,0.5,0.6,0.3,0.2,0.1,0.06,0.03,
  0.01,0.01,0.01,0.01,0.04,0.1,0.2,0.4,0.4,0.4,0.4,0.4, 0.4,0.4,0.4,0.4,0.5,0.5,0.6,0.3,0.2,0.1,0.06,0.03,
  0.01,0.01,0.01,0.01,0.04,0.1,0.2,0.4,0.4,0.4,0.4,0.4, 0.4,0.4,0.4,0.4,0.5,0.5,0.6,0.3,0.2,0.1,0.06,0.03,
  0.01,0.01,0.01,0.01,0.04,0.1,0.2,0.4,0.4,0.4,0.4,0.4, 0.4,0.4,0.4,0.4,0.5,0.5,0.6,0.3,0.2,0.1,0.06,0.03,
  0.01,0.01,0.01,0.01,0.03,0.06,0.1,0.18,0.25,0.3,0.35,0.4, 0.45,0.4,0.4,0.35,0.35,0.35,0.4,0.3,0.2,0.1,0.05,0.02,
  0.01,0.01,0.01,0.01,0.01,0.02,0.03,0.05,0.06,0.07,0.08,0.09, 0.09,0.09,0.09,0.09,0.1,0.12,0.11,0.07,0.05,0.03,0.02,0.01
];
const simNoxPC = [
  0.08,0.06,0.06,0.1,0.3,0.7,1.4,2.3,2.4,2.2,2.3,2.4, 2.4,2.4,2.5,2.6,2.8,3.0,3.1,2.1,1.4,0.8,0.4,0.18,
  0.1,0.06,0.06,0.1,0.3,0.7,1.5,2.4,2.5,2.5,2.5,2.5, 2.5,2.5,2.5,2.6,2.8,3.1,3.3,2.2,1.4,0.8,0.4,0.2,
  0.1,0.06,0.06,0.1,0.3,0.7,1.5,2.6,2.6,2.6,2.6,2.7, 2.6,2.6,2.6,2.7,3.0,3.3,3.4,2.3,1.5,0.8,0.4,0.2,
  0.1,0.06,0.06,0.1,0.3,0.8,1.6,2.6,2.7,2.7,2.7,2.7, 2.8,2.7,2.8,2.8,3.1,3.5,3.8,2.5,1.6,0.9,0.45,0.2,
  0.1,0.06,0.06,0.1,0.3,0.8,1.6,2.8,3.0,2.9,2.9,3.0, 2.9,3.0,2.9,3.0,3.3,3.7,4.2,2.6,1.6,0.9,0.45,0.2,
  0.1,0.08,0.06,0.08,0.17,0.4,0.77,1.3,1.75,2.2,2.5,2.75, 3.1,2.85,2.6,2.5,2.4,2.5,2.6,2.0,1.3,0.77,0.33,0.13,
  0.06,0.04,0.04,0.04,0.06,0.1,0.2,0.3,0.42,0.48,0.55,0.6, 0.62,0.6,0.6,0.64,0.66,0.77,0.7,0.48,0.33,0.22,0.13,0.08
];

// ---------- layout and styling ----------
const FONT = '"Liberation Sans", Arial, Helvetica, sans-serif';
const keyColors = { PC: '#F8766D', LCV: '#A3A500', HGV: '#00BF7D', Bus: '#00B0F6', MC: '#E76BF3' };
const barColors = { PC: '#E3695F', LCV: '#989806', HGV: '#09AC72', Bus: '#0AA3E2', MC: '#D967E2' };
const stackOrder = ['MC', 'Bus', 'HGV', 'LCV', 'PC'];   // bottom to top

const colLeft = [65.5, 336, 607];
const panelW = 265;
const rowTop = [19, 197];
const panelH = 136;
const stripH = 17;
const xMin = -8.9, xMax = 175.9;

const rows = [
  { name: 'CO', yMin: -3.4e6, yMax: 75e6, ticks: coTicks, minor: coMinorTicks,
    sets: [
      { MC: gpsCoMC, Bus: gpsCoBus, HGV: gpsCoHGV, LCV: gpsCoLCV, PC: gpsCoPC },
      { MC: interpCoMC, Bus: interpCoBus, HGV: interpCoHGV, LCV: interpCoLCV, PC: interpCoPC },
      { MC: simCoMC, Bus: simCoBus, HGV: simCoHGV, LCV: simCoLCV, PC: simCoPC }
    ] },
  { name: 'NOx', yMin: -1.3e6, yMax: 28.8e6, ticks: noxTicks, minor: noxMinorTicks,
    sets: [
      { MC: gpsNoxMC, Bus: gpsNoxBus, HGV: gpsNoxHGV, LCV: gpsNoxLCV, PC: gpsNoxPC },
      { MC: interpNoxMC, Bus: interpNoxBus, HGV: interpNoxHGV, LCV: interpNoxLCV, PC: interpNoxPC },
      { MC: simNoxMC, Bus: simNoxBus, HGV: simNoxHGV, LCV: simNoxLCV, PC: simNoxPC }
    ] }
];

function sciLabel(v) {
  if (v === 0) return '0e+00';
  const parts = v.toExponential(0).split('e');
  const n = parseInt(parts[1], 10);
  return parts[0] + 'e' + (n < 0 ? '-' : '+') + String(Math.abs(n)).padStart(2, '0');
}

const grid = [], xAxis = [], yAxis = [], series = [], graphic = [];
const scale = panelW / (xMax - xMin);
let p = 0;

rows.forEach((row, r) => {
  methods.forEach((method, c) => {
    const left = colLeft[c], top = rowTop[r];
    const gOuter = grid.length;
    grid.push({ left: left, top: top, width: panelW, height: panelH, show: true,
      backgroundColor: '#ffffff', borderColor: '#333333', borderWidth: 1,
      containLabel: false, outerBoundsMode: 'none' });
    const gInner = grid.length;
    grid.push({ left: left + (-0.5 - xMin) * scale, top: top, width: 168 * scale, height: panelH,
      containLabel: false, outerBoundsMode: 'none' });

    // major x grid, ticks and labels
    xAxis.push({ type: 'value', gridIndex: gOuter, min: xMin, max: xMax, position: 'bottom',
      axisLine: { show: false },
      axisTick: { show: true, length: 3.5, lineStyle: { color: '#333333', width: 1 }, customValues: xMajorTicks },
      axisLabel: { show: true, customValues: xMajorTicks, color: '#4d4d4d', fontSize: 11, margin: 4, fontFamily: FONT },
      splitLine: { show: true, lineStyle: { color: '#ebebeb', width: 1 } } });
    // minor x grid
    xAxis.push({ type: 'value', gridIndex: gOuter, min: xMin, max: xMax, position: 'bottom',
      axisLine: { show: false },
      axisTick: { show: false, customValues: xMinorTicks },
      axisLabel: { show: false },
      splitLine: { show: true, lineStyle: { color: '#f3f3f3', width: 0.6 } } });
    // bars
    xAxis.push({ type: 'category', gridIndex: gInner, data: hours, boundaryGap: true, show: false });

    yAxis.push({ type: 'value', gridIndex: gOuter, min: row.yMin, max: row.yMax, position: 'left',
      axisLine: { show: false },
      axisTick: { show: c === 0, length: 3.5, lineStyle: { color: '#333333', width: 1 }, customValues: row.ticks },
      axisLabel: { show: c === 0, customValues: row.ticks, formatter: sciLabel, color: '#4d4d4d',
        fontSize: 11, margin: 5, fontFamily: FONT },
      splitLine: { show: true, lineStyle: { color: '#ebebeb', width: 1 } } });
    yAxis.push({ type: 'value', gridIndex: gOuter, min: row.yMin, max: row.yMax, position: 'left',
      axisLine: { show: false },
      axisTick: { show: false, customValues: row.minor },
      axisLabel: { show: false },
      splitLine: { show: true, lineStyle: { color: '#f3f3f3', width: 0.6 } } });
    yAxis.push({ type: 'value', gridIndex: gInner, min: row.yMin, max: row.yMax, show: false });

    const axisIdx = 3 * p + 2;
    stackOrder.forEach(veh => {
      series.push({
        type: 'bar', name: veh, stack: 'panel' + p,
        xAxisIndex: axisIdx, yAxisIndex: axisIdx,
        data: row.sets[c][veh].map(v => v * 1e6),
        itemStyle: { color: barColors[veh] },
        barCategoryGap: '8%',
        silent: true, emphasis: { disabled: true }
      });
    });

    // facet strip
    graphic.push({ type: 'rect', shape: { x: left, y: top - stripH, width: panelW, height: stripH },
      style: { fill: '#d9d9d9', stroke: '#333333', lineWidth: 1 }, silent: true });
    graphic.push({ type: 'text', x: left + panelW / 2, y: top - stripH / 2 + 0.5,
      style: { text: method, fill: '#1a1a1a', fontSize: 8.5, fontFamily: FONT, align: 'center', verticalAlign: 'middle' },
      silent: true });
    p++;
  });

  // y-axis title with superscript unit
  graphic.push({ type: 'text', x: 14, y: rowTop[r] + panelH / 2 - 2, rotation: Math.PI / 2,
    style: {
      text: '{t|' + row.name + ' (g h}{s|\u22121}{t|)}',
      rich: {
        t: { fontSize: 17, lineHeight: 21, fontFamily: FONT, fill: '#000000' },
        s: { fontSize: 11, lineHeight: 11, fontFamily: FONT, fill: '#000000', verticalAlign: 'top' }
      },
      align: 'center', verticalAlign: 'middle'
    }, silent: true });

  // legend title
  graphic.push({ type: 'text', x: 889, y: rowTop[r] + 19, style: { text: 'Veh', fill: '#000000',
    fontSize: 12, fontFamily: FONT, align: 'left', verticalAlign: 'middle' }, silent: true });
});

const legendData = vehicles.map(v => ({ name: v, itemStyle: { color: keyColors[v] } }));
const legend = rowTop.map(t => ({
  orient: 'vertical', left: 890, top: t + 24, padding: 0,
  itemWidth: 19, itemHeight: 19.3, itemGap: 0, icon: 'rect',
  selectedMode: false, data: legendData,
  textStyle: { fontSize: 11.5, color: '#000000', fontFamily: FONT, padding: [0, 0, 0, -3] }
}));

const chart = echarts.init(document.getElementById('chart'), null, { renderer: 'canvas' });
chart.setOption({
  animation: false,
  backgroundColor: '#ffffff',
  textStyle: { fontFamily: FONT },
  tooltip: { show: false },
  legend: legend,
  grid: grid,
  xAxis: xAxis,
  yAxis: yAxis,
  series: series,
  graphic: graphic
});
</script>
</body>
</html>
